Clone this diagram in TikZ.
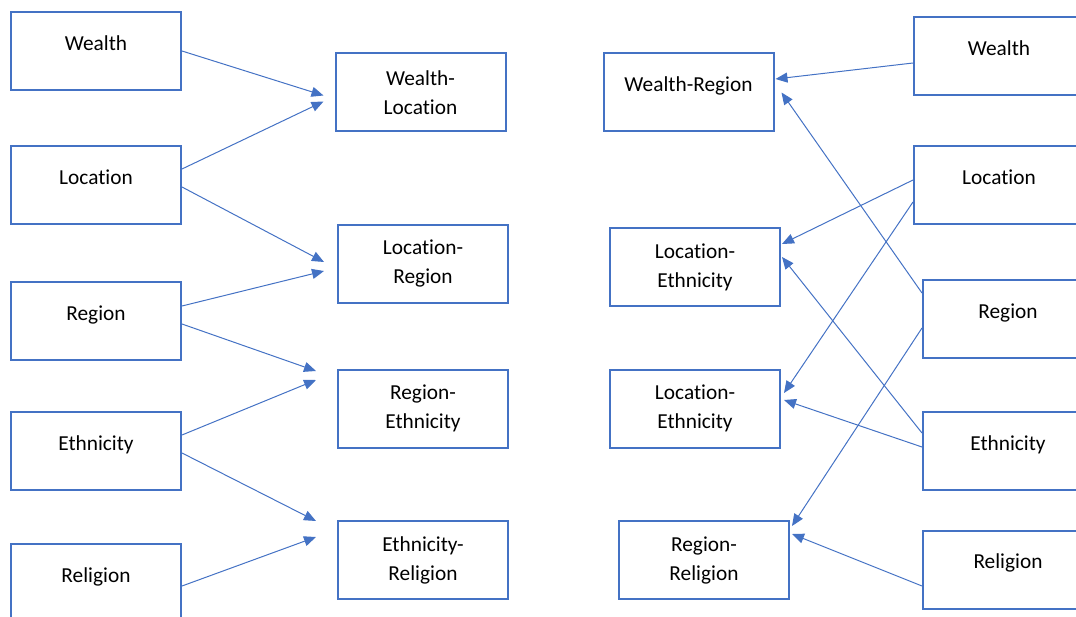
\documentclass[tikz,border=0pt]{standalone}
\usepackage{fontspec}
\setmainfont[Ligatures=NoCommon,RawFeature={-liga}]{Carlito}
\usetikzlibrary{arrows.meta}
\definecolor{wordblue}{RGB}{68,114,196}

\begin{document}
\begin{tikzpicture}[x=0.75pt,y=-0.75pt,
  factor/.style={draw=wordblue,line width=1.5pt,minimum width=127.5pt,minimum height=58.5pt,
    inner sep=0pt,align=center,font=\fontsize{16}{21.75}\selectfont},
  oneline/.style={text height=11pt,text depth=12pt},
  link/.style={draw=wordblue,line width=0.75pt,-{Triangle[length=9pt,width=7.5pt]}}]
%set frame of the picture
\useasboundingbox (0,0) rectangle (1076,617);
\clip (0,0) rectangle (1076,617);

%Single factors, left
\node[factor,oneline] (wl) at (96,51) {Wealth};
\node[factor,oneline] (lol) at (96,185) {Location};
\node[factor,oneline] (rgl) at (96,321) {Region};
\node[factor,oneline] (etl) at (96,451) {Ethnicity};
\node[factor,oneline] (rll) at (96,583) {Religion};
%Pairs, left
\node[factor] (wloc) at (420.5,92.5) {Wealth-\\Location};
\node[factor] (locreg) at (423,263.5) {Location-\\Region};
\node[factor] (regeth) at (423,408.5) {Region-\\Ethnicity};
\node[factor] (ethrel) at (423,560) {Ethnicity-\\Religion};
%Pairs, right
\node[factor,oneline] (wreg) at (688.5,92.5) {Wealth-Region};
\node[factor] (loceth1) at (695,267) {Location-\\Ethnicity};
\node[factor] (loceth2) at (695,408.5) {Location-\\Ethnicity};
\node[factor] (regrel) at (704,560) {Region-\\Religion};
%Single factors, right
\node[factor,oneline] (wr) at (999,56.5) {Wealth};
\node[factor,oneline] (lor) at (999,185) {Location};
\node[factor,oneline] (rgr) at (1008,319) {Region};
\node[factor,oneline] (etr) at (1008,451) {Ethnicity};
\node[factor,oneline] (rlr) at (1008,569.5) {Religion};

%Arrows, left
\draw[link] (wl.east) -- ([shift={(-11,3)}]wloc.west);
\draw[link] ([shift={(0,-16)}]lol.east) -- ([shift={(-11,9)}]wloc.west);
\draw[link] ([shift={(0,2)}]lol.east) -- ([shift={(-13,-1.5)}]locreg.west);
\draw[link] ([shift={(0,-15)}]rgl.east) -- ([shift={(-13,7.5)}]locreg.west);
\draw[link] ([shift={(0,3)}]rgl.east) -- ([shift={(-21,-37.5)}]regeth.west);
\draw[link] ([shift={(0,-16)}]etl.east) -- ([shift={(-21,-28.5)}]regeth.west);
\draw[link] ([shift={(0,2)}]etl.east) -- ([shift={(-21,-39)}]ethrel.west);
\draw[link] ([shift={(0,3)}]rll.east) -- ([shift={(-21,-23)}]ethrel.west);
%Arrows, right
\draw[link] ([shift={(0,6.5)}]wr.west) -- ([shift={(1,-13.5)}]wreg.east);
\draw[link] ([shift={(0,-26)}]rgr.west) -- ([shift={(7,0)}]wreg.east);
\draw[link] ([shift={(0,-5)}]lor.west) -- ([shift={(1,-23)}]loceth1.east);
\draw[link] ([shift={(0,17)}]lor.west) -- ([shift={(3,-15.5)}]loceth2.east);
\draw[link] ([shift={(0,-18)}]etr.west) -- ([shift={(1,-10)}]loceth1.east);
\draw[link] ([shift={(0,-4)}]etr.west) -- ([shift={(3,-8.5)}]loceth2.east);
\draw[link] ([shift={(0,9)}]rgr.west) -- ([shift={(2,-34)}]regrel.east);
\draw[link] ([shift={(0,16.5)}]rlr.west) -- ([shift={(2,-26)}]regrel.east);

\end{tikzpicture}
\end{document}
